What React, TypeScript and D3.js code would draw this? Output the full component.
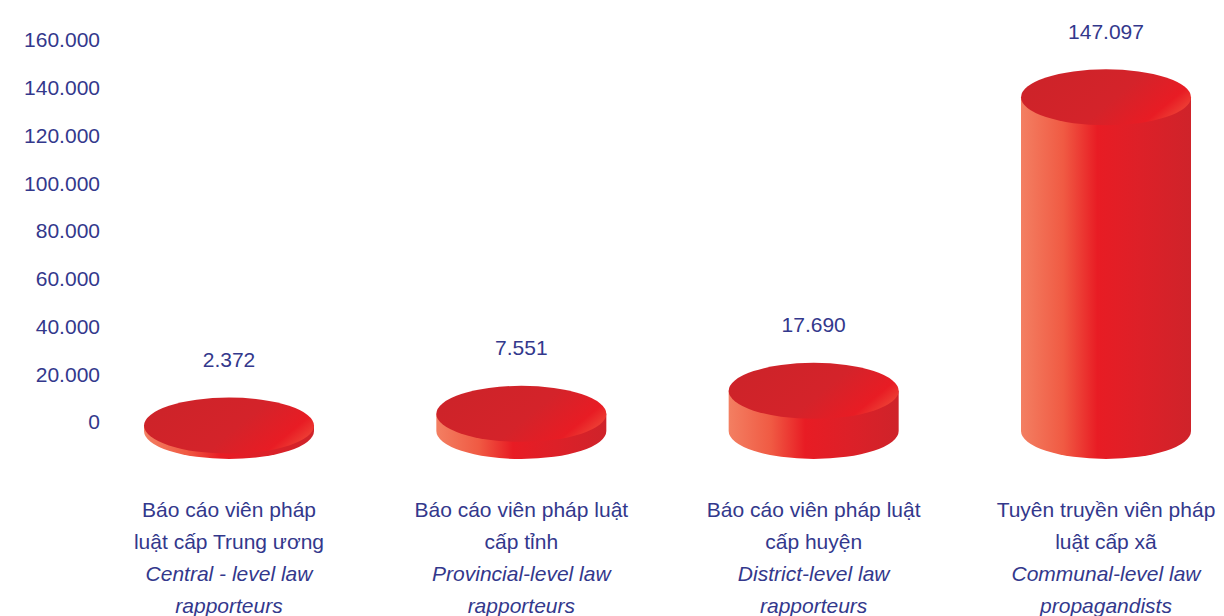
import React from "react";
import * as d3 from "d3";

const categoriesVi1 = ["Báo cáo viên pháp", "Báo cáo viên pháp luật", "Báo cáo viên pháp luật", "Tuyên truyền viên pháp"];
const categoriesVi2 = ["luật cấp Trung ương", "cấp tỉnh", "cấp huyện", "luật cấp xã"];
const categoriesEn1 = ["Central - level law", "Provincial-level law", "District-level law", "Communal-level law"];
const categoriesEn2 = ["rapporteurs", "rapporteurs", "rapporteurs", "propagandists"];
const values = [2372, 7551, 17690, 147097];
const valueLabels = ["2.372", "7.551", "17.690", "147.097"];
const yTicks = [0, 20000, 40000, 60000, 80000, 100000, 120000, 140000, 160000];

const W = 1224;
const H = 616;
const TEXT = "#33388c";
const FONT = "'Liberation Sans', Arial, sans-serif";

export default function App() {
  const idx = values.map((_, i) => String(i));
  const x = d3.scalePoint<string>().domain(idx).range([229, 1106]);
  const yAxis = d3.scaleLinear().domain([0, 160000]).range([422, 40]);
  const yBar = d3.scaleLinear().domain([0, 160000]).range([431, 431 - 363]);
  const rx = 85;
  const ry = 28;
  const fmt = (v: number) => d3.format(",")(v).replace(/,/g, ".");

  return (
    <div style={{ position: "absolute", left: 0, top: 0 }}>
      <svg width={W} height={H} style={{ display: "block", background: "#fff" }}>
        <defs>
          <linearGradient id="body" x1="0" y1="0" x2="1" y2="0">
            <stop offset="0" stopColor="#f37f62" />
            <stop offset="0.25" stopColor="#f05a43" />
            <stop offset="0.45" stopColor="#e81c24" />
            <stop offset="0.7" stopColor="#dd2028" />
            <stop offset="1" stopColor="#cf232a" />
          </linearGradient>
          <linearGradient id="top" x1="0" y1="0.3" x2="1" y2="0.7">
            <stop offset="0" stopColor="#cd2329" />
            <stop offset="0.55" stopColor="#d4232a" />
            <stop offset="0.85" stopColor="#e81c24" />
            <stop offset="1" stopColor="#ee4638" />
          </linearGradient>
        </defs>
        <g fontFamily={FONT} fontSize={21} fill={TEXT}>
          {yTicks.map((t) => (
            <text key={t} x={100} y={yAxis(t)} dy="0.35em" textAnchor="end">
              {t === 0 ? "0" : fmt(t)}
            </text>
          ))}
        </g>
        {values.map((v, i) => {
          const cx = x(String(i))!;
          const yb = yBar(0);
          const yt = yBar(v);
          const body = `M${cx - rx},${yt} L${cx - rx},${yb} A${rx},${ry} 0 0 0 ${cx + rx},${yb} L${cx + rx},${yt} Z`;
          return (
            <g key={i}>
              <path d={body} fill="url(#body)" />
              <ellipse cx={cx} cy={yt} rx={rx} ry={ry} fill="url(#top)" />
              <text
                x={cx}
                y={yt - ry - 38}
                dy="0.35em"
                textAnchor="middle"
                fontFamily={FONT}
                fontSize={21}
                fill={TEXT}
              >
                {valueLabels[i]}
              </text>
            </g>
          );
        })}
        <g fontFamily={FONT} fontSize={21} fill={TEXT} textAnchor="middle">
          {values.map((_, i) => {
            const cx = x(String(i))!;
            return (
              <g key={i}>
                <text x={cx} y={510} dy="0.35em">{categoriesVi1[i]}</text>
                <text x={cx} y={542} dy="0.35em">{categoriesVi2[i]}</text>
                <text x={cx} y={574} dy="0.35em" fontStyle="italic">{categoriesEn1[i]}</text>
                <text x={cx} y={606} dy="0.35em" fontStyle="italic">{categoriesEn2[i]}</text>
              </g>
            );
          })}
        </g>
      </svg>
    </div>
  );
}
